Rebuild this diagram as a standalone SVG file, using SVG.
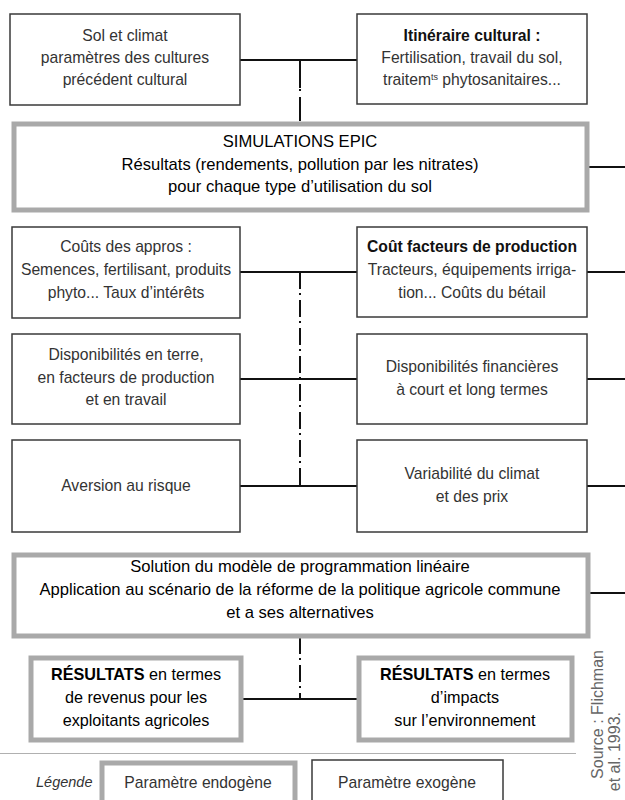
<svg xmlns="http://www.w3.org/2000/svg" width="625" height="800" viewBox="0 0 625 800">
<style>
.exo{fill:#fff;stroke:#3a3a3a;stroke-width:1.5}
.endo{fill:#fff;stroke:#a9a9a9;stroke-width:5}
.t{font-family:"Liberation Sans",Arial,sans-serif;font-size:15.7px;text-anchor:middle}
.big{font-size:16.6px}
.res{font-size:16.2px}
.tx{fill:#333}
.tn{fill:#000}
.b{font-weight:bold;fill:#111}
.ln{stroke:#111;stroke-width:2;fill:none}
.dd{stroke:#111;stroke-width:2;fill:none;stroke-dasharray:17 4 2 5}
</style>
<rect width="625" height="800" fill="#fff"/>
<g id="connectors">
<path class="ln" d="M240 60H357"/>
<path class="ln" d="M300 60V88"/>
<path class="ln" d="M300 89V91"/>
<path class="ln" d="M300 97V121"/>
<path class="ln" d="M589 167H625"/>
<path class="ln" d="M240 272H357M587 272H625"/>
<path class="ln" d="M240 379H357M587 379H625"/>
<path class="ln" d="M240 486H357M587 486H625"/>
<path class="dd" d="M300 272V486"/>
<path class="ln" d="M590 593H625"/>
<path class="dd" d="M300 637V699"/>
<path class="ln" d="M242 699H357"/>
</g>
<g id="sol">
<rect class="exo" x="10" y="14" width="230" height="91"/>
<text class="t tx"><tspan x="125" y="41">Sol et climat</tspan><tspan x="125" y="63">paramètres des cultures</tspan><tspan x="125" y="85">précédent cultural</tspan></text>
</g>
<g id="itineraire">
<rect class="exo" x="357" y="14" width="230" height="90"/>
<text class="t tx"><tspan class="b" x="472" y="41">Itinéraire cultural :</tspan><tspan x="472" y="63">Fertilisation, travail du sol,</tspan><tspan x="472" y="85">traitem<tspan font-size="9" dy="-5">ts</tspan><tspan dy="5"> phytosanitaires...</tspan></tspan></text>
</g>
<g id="epic">
<rect class="endo" x="14" y="124" width="573" height="86"/>
<text class="t big tn"><tspan x="300" y="147">SIMULATIONS EPIC</tspan><tspan x="300" y="170">Résultats (rendements, pollution par les nitrates)</tspan><tspan x="300" y="192">pour chaque type d’utilisation du sol</tspan></text>
</g>
<g id="appros">
<rect class="exo" x="12" y="227" width="228" height="91"/>
<text class="t tx"><tspan x="126" y="252">Coûts des appros :</tspan><tspan x="126" y="275">Semences, fertilisant, produits</tspan><tspan x="126" y="298">phyto... Taux d’intérêts</tspan></text>
</g>
<g id="facteurs">
<rect class="exo" x="357" y="227" width="230" height="90"/>
<text class="t tx"><tspan class="b" x="472" y="252">Coût facteurs de production</tspan><tspan x="472" y="275">Tracteurs, équipements irriga-</tspan><tspan x="472" y="298">tion... Coûts du bétail</tspan></text>
</g>
<g id="terre">
<rect class="exo" x="12" y="334" width="228" height="90"/>
<text class="t tx"><tspan x="126" y="360">Disponibilités en terre,</tspan><tspan x="126" y="383">en facteurs de production</tspan><tspan x="126" y="405">et en travail</tspan></text>
</g>
<g id="financieres">
<rect class="exo" x="357" y="334" width="230" height="90"/>
<text class="t tx"><tspan x="472" y="372">Disponibilités financières</tspan><tspan x="472" y="395">à court et long termes</tspan></text>
</g>
<g id="risque">
<rect class="exo" x="12" y="440" width="228" height="92"/>
<text class="t tx"><tspan x="126" y="491">Aversion au risque</tspan></text>
</g>
<g id="climat">
<rect class="exo" x="357" y="440" width="230" height="92"/>
<text class="t tx"><tspan x="472" y="479">Variabilité du climat</tspan><tspan x="472" y="502">et des prix</tspan></text>
</g>
<g id="solution">
<rect class="endo" x="14" y="555" width="574" height="81"/>
<text class="t big tn"><tspan x="300" y="572">Solution du modèle de programmation linéaire</tspan><tspan x="300" y="595">Application au scénario de la réforme de la politique agricole commune</tspan><tspan x="300" y="618">et a ses alternatives</tspan></text>
</g>
<g id="revenus">
<rect class="endo" x="31" y="658" width="210" height="82"/>
<text class="t res tn"><tspan x="136" y="680"><tspan font-weight="bold">RÉSULTATS</tspan> en termes</tspan><tspan x="136" y="703">de revenus pour les</tspan><tspan x="136" y="726">exploitants agricoles</tspan></text>
</g>
<g id="impacts">
<rect class="endo" x="359" y="658" width="213" height="82"/>
<text class="t res tn"><tspan x="465" y="680"><tspan font-weight="bold">RÉSULTATS</tspan> en termes</tspan><tspan x="465" y="703">d’impacts</tspan><tspan x="465" y="726">sur l’environnement</tspan></text>
</g>
<g id="legende">
<path d="M0 753.5H576" stroke="#b0b0b0" stroke-width="1"/>
<text x="36" y="787" font-family="Liberation Sans,Arial,sans-serif" font-size="14.5" font-style="italic" fill="#333">Légende</text>
<rect class="endo" x="102" y="763" width="193" height="60"/>
<text class="t tx" x="198" y="788">Paramètre endogène</text>
<rect class="exo" x="312" y="760" width="191" height="60"/>
<text class="t tx" x="407" y="788">Paramètre exogène</text>
</g>
<g id="source" font-family="Liberation Sans,Arial,sans-serif" font-size="16" fill="#666" text-anchor="end">
<text transform="translate(603 650) rotate(-90)">Source : Flichman</text>
<text transform="translate(620 712) rotate(-90)">et al. 1993.</text>
</g>
</svg>
